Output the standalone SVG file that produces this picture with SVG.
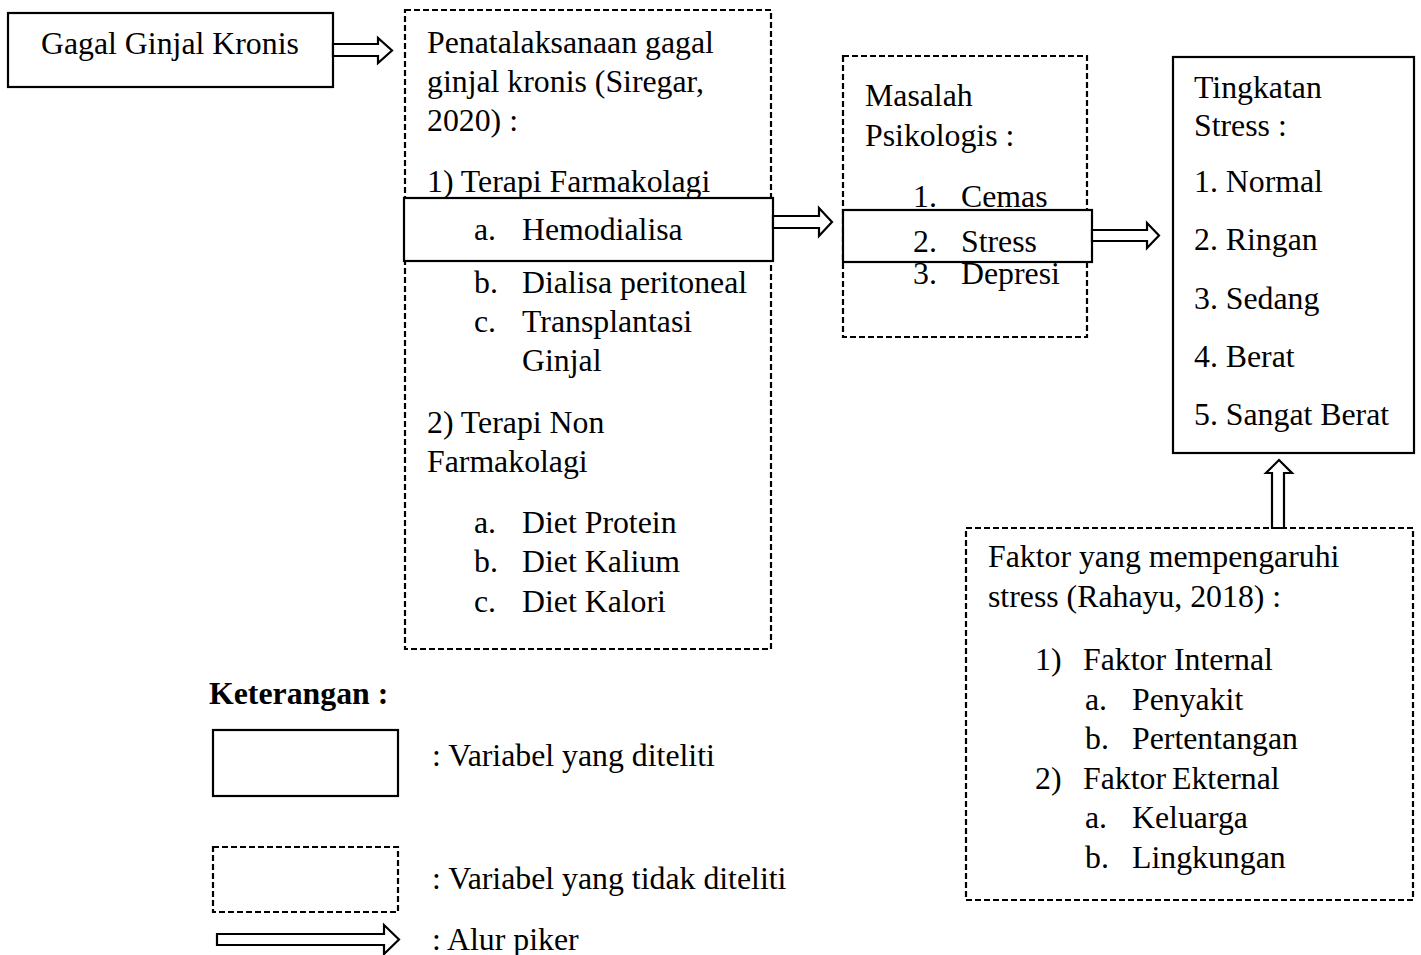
<svg xmlns="http://www.w3.org/2000/svg" width="1421" height="955" viewBox="0 0 1421 955">
<style>
text{font-family:"Liberation Serif","Times New Roman",serif;font-size:31.8px;fill:#000}
.b{font-weight:bold}
.solid{fill:#fff;stroke:#000;stroke-width:2.2}
.dash{fill:#fff;stroke:#000;stroke-width:2.2;stroke-dasharray:6 3}
.arr{fill:#fff;stroke:#000;stroke-width:2.2;stroke-linejoin:miter}
</style>
<rect x="0" y="0" width="1421" height="955" fill="#fff"/>
<g id="node-gagal">
<rect class="solid" x="8" y="13" width="325" height="74"/>
<text x="41" y="54">Gagal Ginjal Kronis</text>
</g>
<g id="node-penatalaksanaan">
<rect class="dash" x="405" y="10" width="366" height="639"/>
<text x="427" y="53">Penatalaksanaan gagal</text>
<text x="427" y="92">ginjal kronis (Siregar,</text>
<text x="427" y="131">2020) :</text>
<text x="427" y="192">1) Terapi Farmakolagi</text>
<text x="474" y="293">b.</text><text x="522" y="293">Dialisa peritoneal</text>
<text x="474" y="332">c.</text><text x="522" y="332">Transplantasi</text>
<text x="522" y="371">Ginjal</text>
<text x="427" y="433">2) Terapi Non</text>
<text x="427" y="472">Farmakolagi</text>
<text x="474" y="533">a.</text><text x="522" y="533">Diet Protein</text>
<text x="474" y="572">b.</text><text x="522" y="572">Diet Kalium</text>
<text x="474" y="612">c.</text><text x="522" y="612">Diet Kalori</text>
</g>
<g id="node-hemodialisa">
<rect class="solid" x="404" y="198" width="369" height="63"/>
<text x="474" y="240">a.</text><text x="522" y="240">Hemodialisa</text>
</g>
<g id="node-masalah">
<rect class="dash" x="843" y="56" width="244" height="281"/>
<text x="865" y="106">Masalah</text>
<text x="865" y="146">Psikologis :</text>
<text x="913" y="207">1.</text><text x="961" y="207">Cemas</text>
<text x="913" y="284">3.</text><text x="961" y="284">Depresi</text>
</g>
<g id="node-stress">
<rect class="solid" x="843" y="210" width="249" height="52"/>
<text x="913" y="252">2.</text><text x="961" y="252">Stress</text>
</g>
<g id="node-tingkatan">
<rect class="solid" x="1173" y="57" width="241" height="396"/>
<text x="1194" y="98">Tingkatan</text>
<text x="1194" y="136">Stress :</text>
<text x="1194" y="192">1. Normal</text>
<text x="1194" y="250">2. Ringan</text>
<text x="1194" y="309">3. Sedang</text>
<text x="1194" y="367">4. Berat</text>
<text x="1194" y="425">5. Sangat Berat</text>
</g>
<g id="node-faktor">
<rect class="dash" x="966" y="528" width="447" height="372"/>
<text x="988" y="567">Faktor yang mempengaruhi</text>
<text x="988" y="607">stress (Rahayu, 2018) :</text>
<text x="1035" y="670">1)</text><text x="1083" y="670">Faktor Internal</text>
<text x="1085" y="710">a.</text><text x="1132" y="710">Penyakit</text>
<text x="1085" y="749">b.</text><text x="1132" y="749">Pertentangan</text>
<text x="1035" y="789">2)</text><text x="1083" y="789">Faktor</text><text x="1172" y="789">Ekternal</text>
<text x="1085" y="828">a.</text><text x="1132" y="828">Keluarga</text>
<text x="1085" y="868">b.</text><text x="1132" y="868">Lingkungan</text>
</g>
<g id="connectors">
<polygon class="arr" points="333,44 378,44 378,38 392,50.5 378,63 378,56 333,56"/>
<polygon class="arr" points="773,216 819,216 819,208 832,222 819,236 819,228 773,228"/>
<polygon class="arr" points="1092,230 1147,230 1147,223 1159,235.5 1147,248 1147,241 1092,241"/>
<polygon class="arr" points="1272,528 1272,473 1266,473 1279,460 1292,473 1284,473 1284,528"/>
</g>
<g id="legend">
<text class="b" x="209" y="704">Keterangan :</text>
<rect class="solid" x="213" y="730" width="185" height="66"/>
<text x="432" y="766">: Variabel yang diteliti</text>
<rect class="dash" x="213" y="847" width="185" height="65"/>
<text x="432" y="889">: Variabel yang tidak diteliti</text>
<polygon class="arr" points="217,934 384,934 384,925 399,939.5 384,954 384,945 217,945"/>
<text x="432" y="950">: Alur piker</text>
</g>
</svg>
